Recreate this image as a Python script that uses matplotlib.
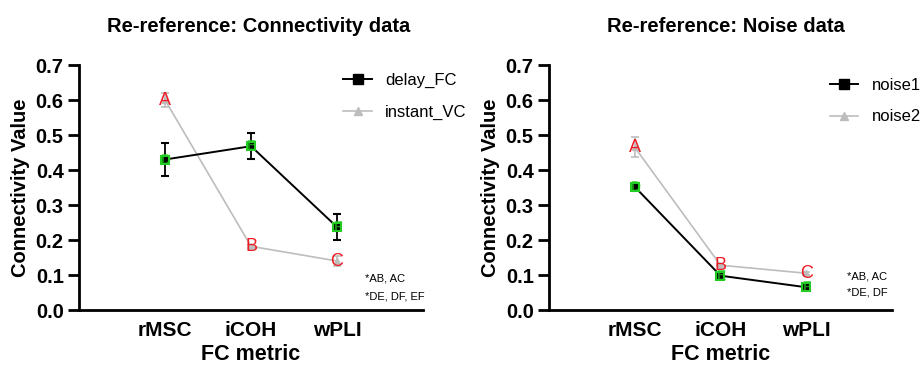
import numpy as np
import matplotlib
matplotlib.use("Agg")
import matplotlib.pyplot as plt
from matplotlib.lines import Line2D

plt.rcParams['font.family'] = ['Liberation Sans', 'DejaVu Sans']

metrics = ["rMSC", "iCOH", "wPLI"]

# left panel: connectivity data
delay_fc = [0.43, 0.468, 0.237]
delay_fc_err = [0.048, 0.037, 0.038]
instant_vc = [0.60, 0.182, 0.14]
instant_vc_err = [0.02, 0.004, 0.014]

# right panel: noise data
noise1 = [0.352, 0.098, 0.065]
noise1_err = [0.005, 0.004, 0.004]
noise2 = [0.465, 0.128, 0.105]
noise2_err = [0.028, 0.003, 0.004]

gray_letters = ["A", "B", "C"]
black_letters = ["D", "E", "F"]
notes_left = ["*AB, AC", "*DE, DF, EF"]
notes_right = ["*AB, AC", "*DE, DF"]

GRAY = "#bdbdbd"
GREEN = "#22cc22"
RED = "#ee1c24"

fig = plt.figure(figsize=(9.22, 3.66), dpi=100)
ax1 = fig.add_axes([0.0857, 0.153, 0.3731, 0.6694])
ax2 = fig.add_axes([0.5954, 0.153, 0.3721, 0.6694])


def panel(ax, black, black_err, gray, gray_err, labels, title, title_x, notes,
          note_x, note_y, leg_anchor):
    x = np.arange(1, len(metrics) + 1)
    ax.errorbar(x, black, yerr=black_err, color="black", lw=1.4, marker="s",
                ms=6, mfc="black", mec=GREEN, mew=1.5, capsize=3, elinewidth=1.3,
                capthick=1.3, clip_on=False, zorder=4)
    ax.errorbar(x, gray, yerr=gray_err, color=GRAY, lw=1.2, marker="^",
                ms=5, mfc=GRAY, mec=GRAY, capsize=3, elinewidth=1.2,
                capthick=1.2, clip_on=False, zorder=3)
    for xi, yi, t in zip(x, gray, gray_letters):
        ax.text(xi, yi, t, color=RED, fontsize=13, ha="center", va="center", zorder=6)
    for xi, yi, t in zip(x, black, black_letters):
        ax.text(xi, yi, t, color=GREEN, fontsize=10, fontweight="bold",
                ha="center", va="center", zorder=6, alpha=0.7)

    ax.set_xlim(0, 4)
    ax.set_ylim(0, 0.7)
    ax.set_xticks(x)
    ax.set_xticklabels(metrics)
    ax.set_yticks(np.arange(0, 0.71, 0.1))
    ax.set_yticklabels([f"{v:.1f}" for v in np.arange(0, 0.71, 0.1)])
    ax.tick_params(axis="x", length=0, pad=8, labelsize=15)
    ax.tick_params(axis="y", length=8, width=2, pad=3, labelsize=14.5)
    for lbl in ax.get_xticklabels() + ax.get_yticklabels():
        lbl.set_fontweight("bold")
    for s in ["top", "right"]:
        ax.spines[s].set_visible(False)
    for s in ["left", "bottom"]:
        ax.spines[s].set_linewidth(2)
    ax.set_xlabel("FC metric", fontsize=15.5, fontweight="bold", labelpad=3)
    ax.set_ylabel("Connectivity Value", fontsize=14.5, fontweight="bold", labelpad=4)
    ax.set_title(title, fontsize=14.5, fontweight="bold", pad=24, x=title_x)

    for i, n in enumerate(notes):
        ax.text(note_x, note_y[i], n, fontsize=8, ha="left", va="center")

    handles = [
        Line2D([], [], color="black", lw=1.4, marker="s", ms=7, mfc="black", mec="black"),
        Line2D([], [], color=GRAY, lw=1.2, marker="^", ms=6, mfc=GRAY, mec=GRAY),
    ]
    ax.legend(handles, labels, loc="upper left", bbox_to_anchor=leg_anchor,
              frameon=False, fontsize=12, handlelength=1.7, handletextpad=0.8,
              labelspacing=1.0, borderaxespad=0)


panel(ax1, delay_fc, delay_fc_err, instant_vc, instant_vc_err,
      ["delay_FC", "instant_VC"], "Re-reference: Connectivity data", 0.523,
      notes_left, 3.33, [0.091, 0.04], (0.749, 0.995))
panel(ax2, noise1, noise1_err, noise2, noise2_err,
      ["noise1", "noise2"], "Re-reference: Noise data", 0.515,
      notes_right, 3.47, [0.097, 0.051], (0.80, 0.975))

fig.savefig("out.png", dpi=100)
